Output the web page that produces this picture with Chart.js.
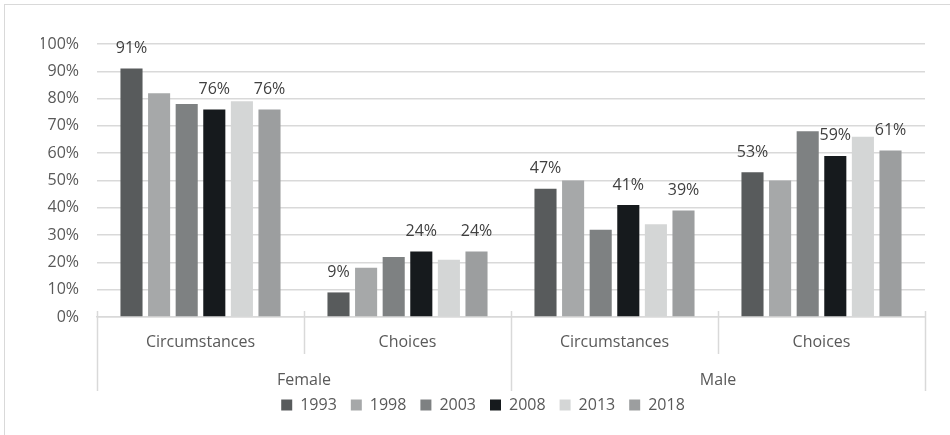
<!DOCTYPE html>
<html>
<head>
<meta charset="utf-8">
<script src="https://cdn.jsdelivr.net/npm/chart.js@4.4.1/dist/chart.umd.min.js"></script>
<style>
  html, body { margin: 0; padding: 0; background: #fff; overflow: hidden; }
  #wrap { position: absolute; left: 0; top: 0; width: 950px; height: 435px; }
  #frame { position: absolute; left: 4px; top: 4px; width: 960px; height: 450px; border: 1px solid #d9d9d9; pointer-events: none; }
</style>
</head>
<body>
<div id="wrap"><canvas id="chart" width="950" height="435"></canvas></div>
<div id="frame"></div>
<script>
// data
const categories = ['Circumstances', 'Choices', 'Circumstances', 'Choices'];
const groups = ['Female', 'Male'];
const years = ['1993', '1998', '2003', '2008', '2013', '2018'];
const values1993 = [91, 9, 47, 53];
const values1998 = [82, 18, 50, 50];
const values2003 = [78, 22, 32, 68];
const values2008 = [76, 24, 41, 59];
const values2013 = [79, 21, 34, 66];
const values2018 = [76, 24, 39, 61];
const yTicks = [0, 10, 20, 30, 40, 50, 60, 70, 80, 90, 100];

const colors = ['#585b5c', '#a6a8a9', '#7e8182', '#161a1d', '#d4d6d6', '#9c9e9f'];
const labelled = [true, false, false, true, false, true]; // only some series show labels
const allValues = [values1993, values1998, values2003, values2008, values2013, values2018];

const FONT = 'Open Sans';
const SIZE = 16;
const textColor = '#595959';
const gridColor = '#d9d9d9';

// draws the value labels, category separators and the Female / Male row
const extrasPlugin = {
    id: 'extras',
    afterDatasetsDraw(chart) {
        const ctx = chart.ctx;
        ctx.save();
        ctx.font = SIZE + 'px "' + FONT + '"';
        ctx.fillStyle = '#404040';
        ctx.textAlign = 'center';
        ctx.textBaseline = 'middle';
        chart.data.datasets.forEach((ds, i) => {
            if (!labelled[i]) return;
            chart.getDatasetMeta(i).data.forEach((bar, j) => {
                ctx.fillText(ds.data[j] + '%', bar.x, bar.y - 20);
            });
        });
        ctx.restore();
    },
    afterDraw(chart) {
        const ctx = chart.ctx;
        const x = chart.scales.x;
        const base = chart.scales.y.getPixelForValue(0);
        const n = categories.length;
        const edge = i => {
            if (i === 0) return x.left;
            if (i === n) return x.right;
            return (x.getPixelForValue(i - 1) + x.getPixelForValue(i)) / 2;
        };
        ctx.save();
        ctx.strokeStyle = gridColor;
        ctx.lineWidth = 1.5;
        for (let i = 0; i <= n; i++) {
            const outer = i % 2 === 0;
            const px = Math.round(edge(i)) + 0.5;
            ctx.beginPath();
            ctx.moveTo(px, base - 6);
            ctx.lineTo(px, base + (outer ? 74 : 37));
            ctx.stroke();
        }
        ctx.font = SIZE + 'px "' + FONT + '"';
        ctx.fillStyle = textColor;
        ctx.textAlign = 'center';
        ctx.textBaseline = 'middle';
        groups.forEach((g, k) => {
            const cx = (edge(k * 2) + edge(k * 2 + 2)) / 2;
            ctx.fillText(g, cx, base + 63);
        });
        ctx.restore();
    }
};

const ctx = document.getElementById('chart').getContext('2d');
new Chart(ctx, {
    type: 'bar',
    data: {
        labels: categories,
        datasets: years.map((y, i) => ({
            label: y,
            data: allValues[i],
            backgroundColor: colors[i],
            borderWidth: 0,
            categoryPercentage: 0.8,
            barPercentage: 0.8
        }))
    },
    options: {
        responsive: false,
        animation: false,
        layout: { padding: { top: 44, right: 25, left: 41, bottom: 12 } },
        scales: {
            y: {
                min: 0,
                max: 100,
                afterBuildTicks: axis => { axis.ticks = yTicks.map(v => ({ value: v })); },
                afterFit: axis => { axis.width = 56; },
                ticks: {
                    callback: v => v + '%',
                    color: textColor,
                    font: { family: FONT, size: SIZE },
                    padding: 18
                },
                grid: { color: gridColor, lineWidth: 1.5, drawTicks: false },
                border: { display: false }
            },
            x: {
                afterFit: axis => { axis.height = 66; },
                ticks: {
                    color: textColor,
                    font: { family: FONT, size: SIZE },
                    padding: 8,
                    maxRotation: 0
                },
                grid: { display: false },
                border: { display: true, color: gridColor, width: 1.5 }
            }
        },
        plugins: {
            legend: {
                position: 'bottom',
                labels: {
                    boxWidth: 11,
                    boxHeight: 11,
                    padding: 14,
                    color: textColor,
                    font: { family: FONT, size: SIZE }
                }
            },
            tooltip: { enabled: false }
        }
    },
    plugins: [extrasPlugin]
});
</script>
</body>
</html>
